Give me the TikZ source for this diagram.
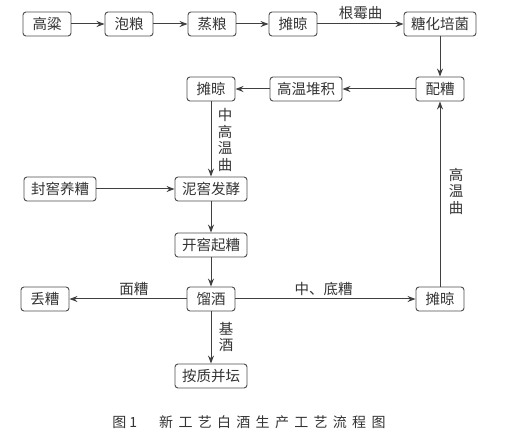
\documentclass[tikz,border=0pt]{standalone}
\usepackage{fontspec}
\setmainfont{Noto Sans CJK SC}
\usetikzlibrary{arrows.meta}
\tikzset{
  box/.style={draw=black!70, line width=0.9pt, rounded corners=3pt, inner xsep=7pt, inner ysep=0pt,
    minimum height=24pt, minimum width=48pt, text=black!80, font=\fontsize{14.5}{16}\selectfont},
  arr/.style={draw=black!75, line width=1pt, -{Stealth[length=8pt,width=6pt]}},
  lbl/.style={text=black!80, font=\fontsize{14.5}{16.5}\selectfont, inner sep=0pt, align=center},
}
\newcommand{\cs}{\hspace{5.3pt}}
\begin{document}
\begin{tikzpicture}[x=1pt,y=-1pt]
\useasboundingbox (0,0) rectangle (515,446);
% row 1
\node[box] (gl) at (47,24) {高粱};
\node[box] (pl) at (129,24) {泡粮};
\node[box] (zl) at (212,24) {蒸粮};
\node[box] (tl1) at (293,24) {摊晾};
\node[box] (th) at (440,24) {糖化培菌};
% row 2
\node[box] (pz) at (440,89) {配糟};
\node[box] (gw) at (306,89) {高温堆积};
\node[box] (tl2) at (211,89) {摊晾};
% column
\node[box] (nj) at (211,189) {泥窖发酵};
\node[box] (fj) at (60,189) {封窖养糟};
\node[box] (kj) at (211,245) {开窖起糟};
\node[box] (lj) at (211,299) {馏酒};
\node[box] (dz) at (45,299) {丢糟};
\node[box] (tl3) at (440,299) {摊晾};
\node[box] (az) at (211,376) {按质并坛};
% arrows
\draw[arr] (gl) -- (pl);
\draw[arr] (pl) -- (zl);
\draw[arr] (zl) -- (tl1);
\draw[arr] (tl1) -- node[lbl, above=4pt] {根霉曲} (th);
\draw[arr] (th) -- (pz);
\draw[arr] (pz) -- (gw);
\draw[arr] (gw) -- (tl2);
\draw[arr] (tl2) -- (nj);
\node[lbl] (l1) at (225,140) {中\\高\\温\\曲};
\draw[arr] (fj) -- (nj);
\draw[arr] (nj) -- (kj);
\draw[arr] (kj) -- (lj);
\draw[arr] (lj) -- node[lbl, above=3pt, pos=0.45] {面糟} (dz);
\draw[arr] (lj) -- node[lbl, above=3pt, pos=0.49] {中、底糟} (tl3);
\draw[arr] (lj) -- (az);
\node[lbl] (l2) at (226,337) {基\\酒};
\draw[arr] (tl3) -- (pz);
\node[lbl] (l3) at (456,191) {高\\温\\曲};
% caption
\node[text=black!80, font=\fontsize{14}{16}\selectfont, inner sep=0pt] (cap) at (249,422)
  {图\hspace{3pt}1\hspace{22pt}新\cs 工\cs 艺\cs 白\cs 酒\cs 生\cs 产\cs 工\cs 艺\cs 流\cs 程\cs 图};
\end{tikzpicture}
\end{document}
